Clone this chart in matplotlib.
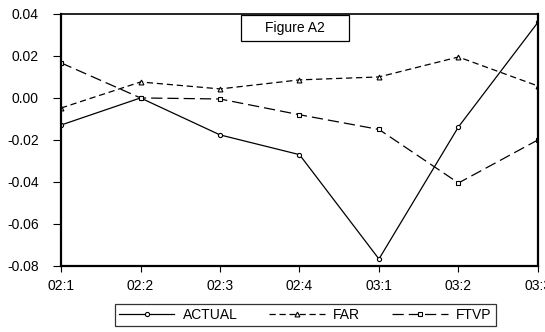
import matplotlib.pyplot as plt
from matplotlib.patches import Rectangle

plt.rcParams['font.family'] = ['Liberation Sans', 'DejaVu Sans']

quarters = ['02:1', '02:2', '02:3', '02:4', '03:1', '03:2', '03:3']
actual = [-0.0129, 0.0, -0.0176, -0.027, -0.0767, -0.0138, 0.036]
far = [-0.0048, 0.0076, 0.0043, 0.0086, 0.010, 0.0195, 0.0057]
ftvp = [0.0167, 0.0, -0.0005, -0.008, -0.015, -0.0405, -0.020]

fig = plt.figure(figsize=(5.45, 3.32), dpi=100)
ax = fig.add_axes([0.112, 0.199, 0.875, 0.759])

x = range(len(quarters))
ax.plot(x, actual, color='black', lw=0.9, marker='o', ms=3, mfc='white', mew=0.8,
        label='ACTUAL')
ax.plot(x, far, color='black', lw=0.9, ls=(0, (5, 3)), marker='^', ms=3.5, mfc='white',
        mew=0.8, label='FAR')
ax.plot(x, ftvp, color='black', lw=0.9, ls=(0, (9, 4)), marker='s', ms=3, mfc='white',
        mew=0.8, label='FTVP')

ax.set_xlim(0, 6)
ax.set_ylim(-0.08, 0.04)
ax.set_xticks(list(x))
ax.set_xticklabels(quarters)
ax.set_yticks([-0.08, -0.06, -0.04, -0.02, 0.0, 0.02, 0.04])
ax.set_yticklabels(['-0.08', '-0.06', '-0.04', '-0.02', '0.00', '0.02', '0.04'])
ax.tick_params(direction='out', width=0.8, labelsize=10)
ax.tick_params(axis='y', length=6, pad=10)
ax.tick_params(axis='x', length=4.5, pad=5)
for side in ['left', 'bottom', 'right']:
    ax.spines[side].set_linewidth(1.6)
ax.spines['top'].set_linewidth(1.2)

# title box inside the plot
ax.add_patch(Rectangle((0.377, 0.893), 0.227, 0.103, transform=ax.transAxes,
                       fc='white', ec='black', lw=0.9, zorder=5))
ax.text(0.49, 0.944, 'Figure A2', transform=ax.transAxes, ha='center', va='center',
        fontsize=10, zorder=6)

leg = fig.legend(loc='center', bbox_to_anchor=(0.56, 0.0505), ncol=3, frameon=True,
                 fancybox=False, edgecolor='black', fontsize=10, handlelength=4.0,
                 columnspacing=2.3, borderpad=0.28, handletextpad=0.6)
leg.get_frame().set_linewidth(0.9)

fig.savefig('out.png', dpi=100)
